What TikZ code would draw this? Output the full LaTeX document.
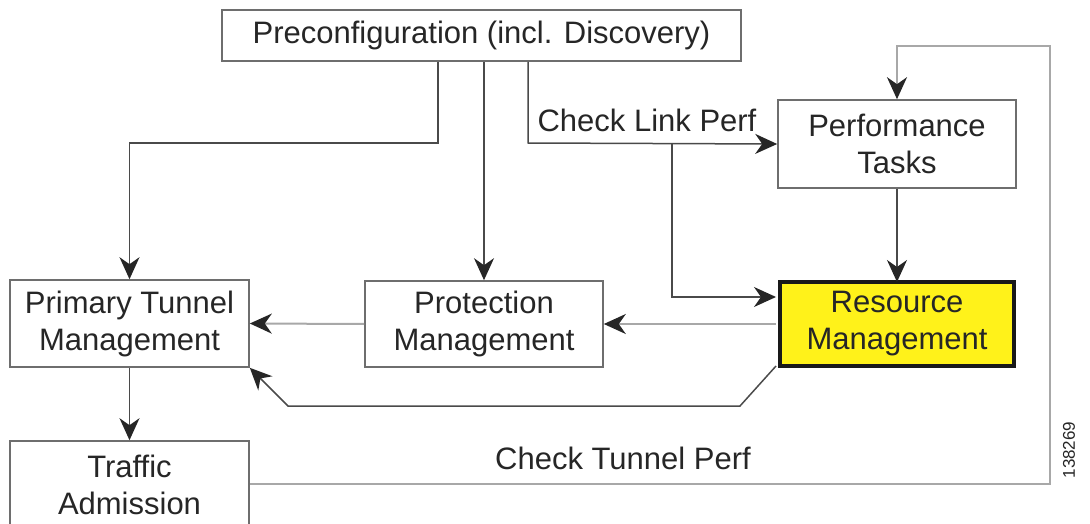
\documentclass[tikz,border=0pt]{standalone}
\usepackage{fontspec}
\setmainfont{Liberation Sans}
\usetikzlibrary{arrows.meta}
\definecolor{linedark}{HTML}{4A4A4A}
\definecolor{linelight}{HTML}{A8A8A8}
\definecolor{boxline}{HTML}{6E6E6E}
\definecolor{resfill}{HTML}{FFF21A}
\definecolor{txt}{HTML}{262626}
\tikzset{
  block/.style={draw=boxline, line width=1.6pt, fill=white, rectangle,
    align=center, text=txt, inner sep=0pt,
    font=\fontsize{31}{37}\selectfont},
  hot/.style={block, draw=black!90, line width=4pt, fill=resfill},
  tipd/.tip={Stealth[length=22pt,width=20pt,inset=7pt,color=black!85]},
  flow/.style={draw=linedark, line width=1.5pt, -tipd},
  flowlight/.style={draw=linelight, line width=2pt, -tipd},
  lbl/.style={text=txt, font=\fontsize{31}{37}\selectfont, inner sep=0pt}
}
\begin{document}
\begin{tikzpicture}[x=1pt,y=-1pt]
\useasboundingbox (0,0) rectangle (1090,524);

% blocks
\node[block, minimum width=519pt, minimum height=51pt] (pre) at (481.5,35.5)
  {Preconfiguration (incl. Discovery)};
\node[block, minimum width=238pt, minimum height=88pt] (perf) at (897,144)
  {Performance\\Tasks};
\node[hot, minimum width=234pt, minimum height=84pt] (res) at (897,324)
  {Resource\\Management};
\node[block, minimum width=238pt, minimum height=86pt] (prot) at (484,324)
  {Protection\\Management};
\node[block, minimum width=239pt, minimum height=87pt] (prim) at (129.5,323.5)
  {Primary Tunnel\\Management};
\node[block, minimum width=239pt, minimum height=88pt] (traf) at (129.5,485)
  {Traffic\\Admission};

% labels
\node[lbl] (cl) at (647,120) {Check Link Perf};
\node[lbl] (ct) at (623,458) {Check Tunnel Perf};
\node[text=txt, font=\fontsize{17}{20}\selectfont, rotate=90, inner sep=0pt]
  (fig) at (1069,450) {138269};

% bend points
\coordinate (k1) at (438,143);
\coordinate (k2) at (528,143);
\coordinate (k3) at (672,143);
\coordinate (k4) at (672,297);
\coordinate (k5) at (740,406);
\coordinate (k6) at (288,406);
\coordinate (f1) at (1050,484);
\coordinate (f2) at (1050,46);
\coordinate (f3) at (897,46);

% connectors from preconfiguration
\draw[flow] (k1 |- pre.south) -- (k1) -| (prim.north);
\draw[flow] (prot.north |- pre.south) -- (prot.north);
\draw[flow] (k2 |- pre.south) -- (k2) -- (perf.west);
\draw[flow] (k3) -- (k4) -- ([xshift=-2pt]k4 -| res.west);

% performance to resource
\draw[flow] (perf.south) -- ([yshift=-2pt]res.north);

% resource to protection to primary
\draw[flowlight] ([xshift=-2pt]res.west) -- (prot.east);
\draw[flowlight] (prot.west) -- (prim.east);

% resource back to primary tunnel management
\draw[flow] ([shift={(-2pt,2pt)}]res.south west) -- (k5) -- (k6) -- (prim.south east);

% primary to traffic admission
\draw[flow] (prim.south) -- (traf.north);

% tunnel performance feedback loop
\draw[flowlight] (traf.east |- f1) -- (f1) -- (f2) -- (f3) -- (perf.north);
\end{tikzpicture}
\end{document}
